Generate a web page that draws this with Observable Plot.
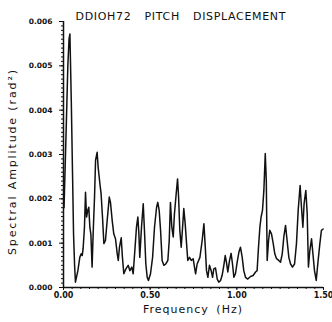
<!DOCTYPE html>
<html>
<head>
<meta charset="utf-8">
<script src="https://cdn.jsdelivr.net/npm/d3@7"></script>
<script src="https://cdn.jsdelivr.net/npm/@observablehq/plot@0.6"></script>
<style>
  html, body { margin: 0; padding: 0; background: #fff; }
  svg { display: block; }
  .ttl text { word-spacing: 9px; }
  .xlab text { word-spacing: 3px; }
</style>
</head>
<body>
<div id="chart"></div>
<script>
const title = "DDIOH72 PITCH DISPLACEMENT";
const xLabel = "Frequency (Hz)";
const yLabel = "Spectral Amplitude (rad²)";
const xTicks = [0, 0.5, 1.0, 1.5];
const yTicks = [0, 0.001, 0.002, 0.003, 0.004, 0.005, 0.006];

const freq = [
  0.003, 0.015, 0.025, 0.032, 0.037, 0.045, 0.052, 0.058, 0.064, 0.069,
  0.083, 0.094, 0.102, 0.108, 0.113, 0.121, 0.127, 0.133, 0.140, 0.146,
  0.152, 0.158, 0.165, 0.171, 0.179, 0.185, 0.194, 0.200, 0.210, 0.217,
  0.225, 0.233, 0.242, 0.252, 0.264, 0.271, 0.281, 0.290, 0.300, 0.310,
  0.316, 0.323, 0.333, 0.340, 0.348, 0.360, 0.373, 0.383, 0.394, 0.402,
  0.413, 0.421, 0.429, 0.435, 0.440, 0.450, 0.460, 0.467, 0.475, 0.483,
  0.490, 0.502, 0.514, 0.525, 0.537, 0.544, 0.552, 0.560, 0.569, 0.579,
  0.590, 0.602, 0.610, 0.617, 0.625, 0.633, 0.640, 0.650, 0.658, 0.664,
  0.671, 0.679, 0.687, 0.694, 0.702, 0.710, 0.717, 0.727, 0.737, 0.748,
  0.762, 0.771, 0.787, 0.800, 0.810, 0.818, 0.825, 0.833, 0.842, 0.852,
  0.860, 0.867, 0.877, 0.887, 0.896, 0.906, 0.915, 0.925, 0.933, 0.940,
  0.948, 0.958, 0.967, 0.975, 0.983, 0.992, 1.002, 1.012, 1.021, 1.031,
  1.040, 1.050, 1.063, 1.079, 1.094, 1.108, 1.117, 1.125, 1.133, 1.140,
  1.148, 1.156, 1.164, 1.170, 1.175, 1.183, 1.190, 1.200, 1.210, 1.219,
  1.229, 1.242, 1.252, 1.262, 1.271, 1.281, 1.290, 1.300, 1.310, 1.321,
  1.333, 1.344, 1.354, 1.365, 1.373, 1.381, 1.388, 1.398, 1.406, 1.413,
  1.421, 1.431, 1.438, 1.448, 1.458, 1.467, 1.479, 1.488, 1.498
];
const amp = [
  0.00180, 0.00350, 0.00500, 0.00560, 0.00572, 0.00420, 0.00260, 0.00120, 0.00050, 0.00012,
  0.00038, 0.00068, 0.00076, 0.00072, 0.00087, 0.00136, 0.00215, 0.00159, 0.00174, 0.00181,
  0.00136, 0.00120, 0.00046, 0.00121, 0.00204, 0.00287, 0.00305, 0.00271, 0.00234, 0.00211,
  0.00159, 0.00099, 0.00106, 0.00151, 0.00204, 0.00192, 0.00151, 0.00121, 0.00110, 0.00076,
  0.00061, 0.00091, 0.00112, 0.00068, 0.00031, 0.00042, 0.00050, 0.00038, 0.00046, 0.00031,
  0.00091, 0.00136, 0.00159, 0.00121, 0.00068, 0.00136, 0.00189, 0.00129, 0.00053, 0.00023,
  0.00016, 0.00031, 0.00068, 0.00136, 0.00181, 0.00192, 0.00174, 0.00129, 0.00061, 0.00050,
  0.00053, 0.00061, 0.00106, 0.00192, 0.00136, 0.00114, 0.00166, 0.00211, 0.00245, 0.00204,
  0.00129, 0.00091, 0.00136, 0.00178, 0.00144, 0.00099, 0.00061, 0.00068, 0.00061, 0.00065,
  0.00031, 0.00053, 0.00068, 0.00106, 0.00144, 0.00091, 0.00038, 0.00023, 0.00050, 0.00038,
  0.00023, 0.00042, 0.00044, 0.00019, 0.00012, 0.00016, 0.00027, 0.00050, 0.00072, 0.00057,
  0.00035, 0.00061, 0.00077, 0.00053, 0.00023, 0.00031, 0.00057, 0.00080, 0.00091, 0.00068,
  0.00038, 0.00023, 0.00019, 0.00025, 0.00027, 0.00035, 0.00038, 0.00091, 0.00136, 0.00159,
  0.00174, 0.00219, 0.00302, 0.00241, 0.00061, 0.00106, 0.00129, 0.00121, 0.00099, 0.00076,
  0.00065, 0.00061, 0.00057, 0.00076, 0.00114, 0.00140, 0.00106, 0.00068, 0.00053, 0.00046,
  0.00053, 0.00099, 0.00174, 0.00230, 0.00181, 0.00136, 0.00189, 0.00219, 0.00166, 0.00046,
  0.00083, 0.00110, 0.00080, 0.00038, 0.00016, 0.00053, 0.00099, 0.00129, 0.00132
];

const xMinor = d3.range(0, 1.5001, 0.05);
const yMinor = d3.range(0, 0.00601, 0.0001);

const data = freq.map((f, i) => ({f, a: amp[i]}));
const font = "DejaVu Sans, sans-serif";

const chart = Plot.plot({
  width: 332,
  height: 322,
  marginLeft: 63,
  marginRight: 9,
  marginTop: 21,
  marginBottom: 35,
  style: {fontFamily: font, background: "#fff", color: "#111"},
  x: {domain: [0, 1.5]},
  y: {domain: [0, 0.006]},
  marks: [
    Plot.axisX({ticks: xMinor, tickSize: 2, tickFormat: () => "", label: null, stroke: "#111"}),
    Plot.axisX({ticks: xTicks, tickSize: 3, tickPadding: 2, tickFormat: d3.format(".2f"), fontSize: 8, fontWeight: "bold", label: null, stroke: "#111", fill: "#111"}),
    Plot.axisY({ticks: yMinor, tickSize: 2, tickFormat: () => "", label: null, stroke: "#111"}),
    Plot.axisY({ticks: yTicks, tickSize: 4, tickPadding: 7, tickFormat: d3.format(".3f"), fontSize: 7.5, fontWeight: "bold", label: null, stroke: "#111", fill: "#111"}),
    Plot.ruleX([0], {stroke: "#111", strokeWidth: 1.5}),
    Plot.ruleY([0], {stroke: "#111", strokeWidth: 1.5}),
    Plot.lineY(data, {x: "f", y: "a", stroke: "#111", strokeWidth: 1.5}),
    Plot.text([title], {frameAnchor: "top", dx: -13, dy: -9, fontSize: 11, fill: "#111", className: "ttl"}),
    Plot.text([xLabel], {frameAnchor: "bottom", dx: -1, dy: 25, fontSize: 11, fill: "#111", className: "xlab"}),
    Plot.text([yLabel], {frameAnchor: "left", textAnchor: "middle", dx: -51, dy: 8, rotate: -90, fontSize: 11, fill: "#111", className: "ylab"})
  ]
});
const sel = d3.select(chart);
sel.select(".ttl text").attr("textLength", 210).attr("lengthAdjust", "spacing");
sel.select(".xlab text").attr("textLength", 99).attr("lengthAdjust", "spacing");
sel.select(".ylab text").attr("textLength", 185).attr("lengthAdjust", "spacing");
document.getElementById("chart").appendChild(chart);
</script>
</body>
</html>
